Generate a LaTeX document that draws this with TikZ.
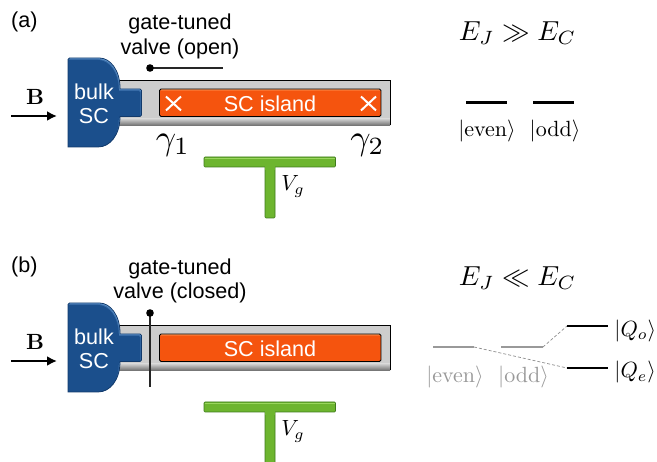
\documentclass[tikz,border=0pt]{standalone}
\usepackage[no-math]{fontspec}
\setmainfont{Liberation Sans}
\usetikzlibrary{arrows.meta}
\definecolor{blueC}{HTML}{1B4F8C}
\definecolor{blueD}{HTML}{123A6B}
\definecolor{blueL}{HTML}{6A9FD6}
\definecolor{orC}{HTML}{F5540E}
\definecolor{orL}{HTML}{FF9A5A}
\definecolor{grnC}{HTML}{6DB52F}
\definecolor{grnL}{HTML}{9AD65E}
\definecolor{grnD}{HTML}{3F7A1C}
\definecolor{greyL}{HTML}{CDCDCD}
\definecolor{greyD}{HTML}{707070}
\definecolor{greyLev}{HTML}{999999}
\tikzset{
  x=1pt,y=-1pt,
  sans/.style={font=\fontsize{21.6}{26}\selectfont,inner sep=0pt,text=black},
  whitetext/.style={font=\fontsize{21.6}{26}\selectfont,inner sep=0pt,text=white},
  mathtxt/.style={inner sep=0pt,scale=2.2,text=black},
  mathbig/.style={inner sep=0pt,scale=2.75,text=black},
  mathgamma/.style={inner sep=0pt,scale=3.55,text=black},
  mathgrey/.style={inner sep=0pt,scale=2.2,text=greyLev},
  level/.style={line width=2.8pt,black},
  levelgrey/.style={line width=2.8pt,greyLev},
  link/.style={line width=0.7pt,dash pattern=on 3pt off 2pt,greyD!80},
  valve/.style={line width=2.6pt,black!85},
  crossmark/.style={line width=2pt,white},
  field/.style={line width=2.6pt,black,-{Latex[length=10pt,width=10pt]}},
}
\newcommand{\bulkpath}{%
  (68,60) [rounded corners=1.5pt] -- (68,58) -- (98,58) [sharp corners]
    .. controls (110,58) and (120,70) .. (120,88)
    -- (120,89) [rounded corners=1.5pt] -- (141.5,89) -- (141.5,116.5) [sharp corners] -- (120,116.5)
    .. controls (120,135) and (110,147) .. (98,147)
    -- (68,147) -- cycle}
\newcommand{\device}[1]{%
  % wire bar
  \fill[greyL] (118,81) rectangle (390,119);
  \shade[top color=greyL,bottom color=greyD] (118,119) rectangle (390,125.5);
  \draw[line width=0.9pt,black] (118,80.5) -- (390,80.5) -- (390,125);
  % bulk
  \begin{scope}
    \clip \bulkpath;
    \fill[blueL] (60,50) rectangle (150,155);
    \fill[blueC!60!blueL,shift={(-0.6,1)}] \bulkpath;
    \fill[blueC,shift={(-1.2,2)}] \bulkpath;
  \end{scope}
  \draw[blueD,line width=0.8pt] \bulkpath;
  \node[whitetext] (bulk#1) at (94,92) {bulk};
  \node[whitetext] (sc#1) at (94,116) {SC};
  % island
  \begin{scope}
    \clip[rounded corners=1.5pt] (159.5,89) rectangle (381,116.5);
    \fill[orL] (159.5,89) rectangle (381,92);
    \fill[orC!60!orL] (159.5,90) rectangle (381,93);
    \fill[orC] (159.5,91) rectangle (381,116.5);
  \end{scope}
  \draw[black,line width=0.8pt,rounded corners=1.5pt] (159.5,89) rectangle (381,116.5);
  \node[whitetext] (island#1) at (270,103.5) {SC island};
  % gate
  \path[draw=grnD,line width=0.7pt,rounded corners=1pt,fill=grnC]
    (265,166) -- (265,218) -- (275,218) -- (275,166) -- cycle;
  \path[draw=grnD,line width=0.7pt,rounded corners=1pt,fill=grnC]
    (204,157) rectangle (335.5,167);
  \fill[grnL] (205,157.6) rectangle (334.5,159);
  \fill[grnC] (265.4,165) rectangle (274.6,170);
  \node[mathtxt,anchor=west] (vg#1) at (281,186.5) {$V_g$};
}
\begin{document}
\begin{tikzpicture}
\useasboundingbox (0,0) rectangle (657,462);

% ---------- panel (a)
\node[sans,anchor=west] (la) at (11,22) {(a)};
\device{a}
\node[sans] (gta) at (180,23.5) {gate-tuned};
\node[sans] (vta) at (180,49) {valve (open)};
\coordinate (va1) at (150,68);
\coordinate (va2) at (223,68);
\draw[valve] (va1) -- (va2);
\fill[black] (va1) circle (3.8);
\draw[crossmark] (166,96.5) -- (181,110.5) (181,96.5) -- (166,110.5);
\draw[crossmark] (361,96.5) -- (376,110.5) (376,96.5) -- (361,110.5);
\node[mathgamma] (g1) at (173,145) {$\gamma_1$};
\node[mathgamma] (g2) at (367.5,145) {$\gamma_2$};
\node[mathtxt] (Ba) at (35,97) {$\mathbf{B}$};
\coordinate (ba1) at (11,116);
\coordinate (ba2) at (57,116);
\draw[field] (ba1) -- (ba2);

\node[mathbig] (eja) at (517.5,33) {$E_J\gg E_C$};
\coordinate (ea1) at (466,102.5);
\coordinate (ea2) at (507,102.5);
\coordinate (oa1) at (533,102.5);
\coordinate (oa2) at (574,102.5);
\draw[level] (ea1) -- (ea2);
\draw[level] (oa1) -- (oa2);
\node[mathtxt] (eva) at (487,131) {$|\mathrm{even}\rangle$};
\node[mathtxt] (oda) at (555,131) {$|\mathrm{odd}\rangle$};

% ---------- panel (b)
\node[sans,anchor=west] (lb) at (11,267) {(b)};
\begin{scope}[yshift=-245pt]
\device{b}
\end{scope}
\node[sans] (gtb) at (180,268.5) {gate-tuned};
\node[sans] (vtb) at (180,293) {valve (closed)};
\coordinate (vb1) at (150,313);
\coordinate (vb2) at (150,387);
\draw[valve] (vb1) -- (vb2);
\fill[black] (vb1) circle (3.8);
\node[mathtxt] (Bb) at (35,342) {$\mathbf{B}$};
\coordinate (bb1) at (11,361);
\coordinate (bb2) at (57,361);
\draw[field] (bb1) -- (bb2);

\node[mathbig] (ejb) at (517.5,278) {$E_J\ll E_C$};
\coordinate (eb1) at (433,347);
\coordinate (eb2) at (474,347);
\coordinate (ob1) at (501,347);
\coordinate (ob2) at (543,347);
\coordinate (qo1) at (567,326);
\coordinate (qo2) at (608,326);
\coordinate (qe1) at (567,368);
\coordinate (qe2) at (608,368);
\draw[link] (eb2) -- (qe1);
\draw[link] (ob2) -- (qo1);
\draw[levelgrey] (eb1) -- (eb2);
\draw[levelgrey] (ob1) -- (ob2);
\draw[level] (qo1) -- (qo2);
\draw[level] (qe1) -- (qe2);
\node[mathgrey] (evb) at (455,377) {$|\mathrm{even}\rangle$};
\node[mathgrey] (odb) at (523.5,377) {$|\mathrm{odd}\rangle$};
\node[mathtxt,anchor=west] (qol) at (614,331) {$|Q_o\rangle$};
\node[mathtxt,anchor=west] (qel) at (614,372.5) {$|Q_e\rangle$};
\end{tikzpicture}
\end{document}
